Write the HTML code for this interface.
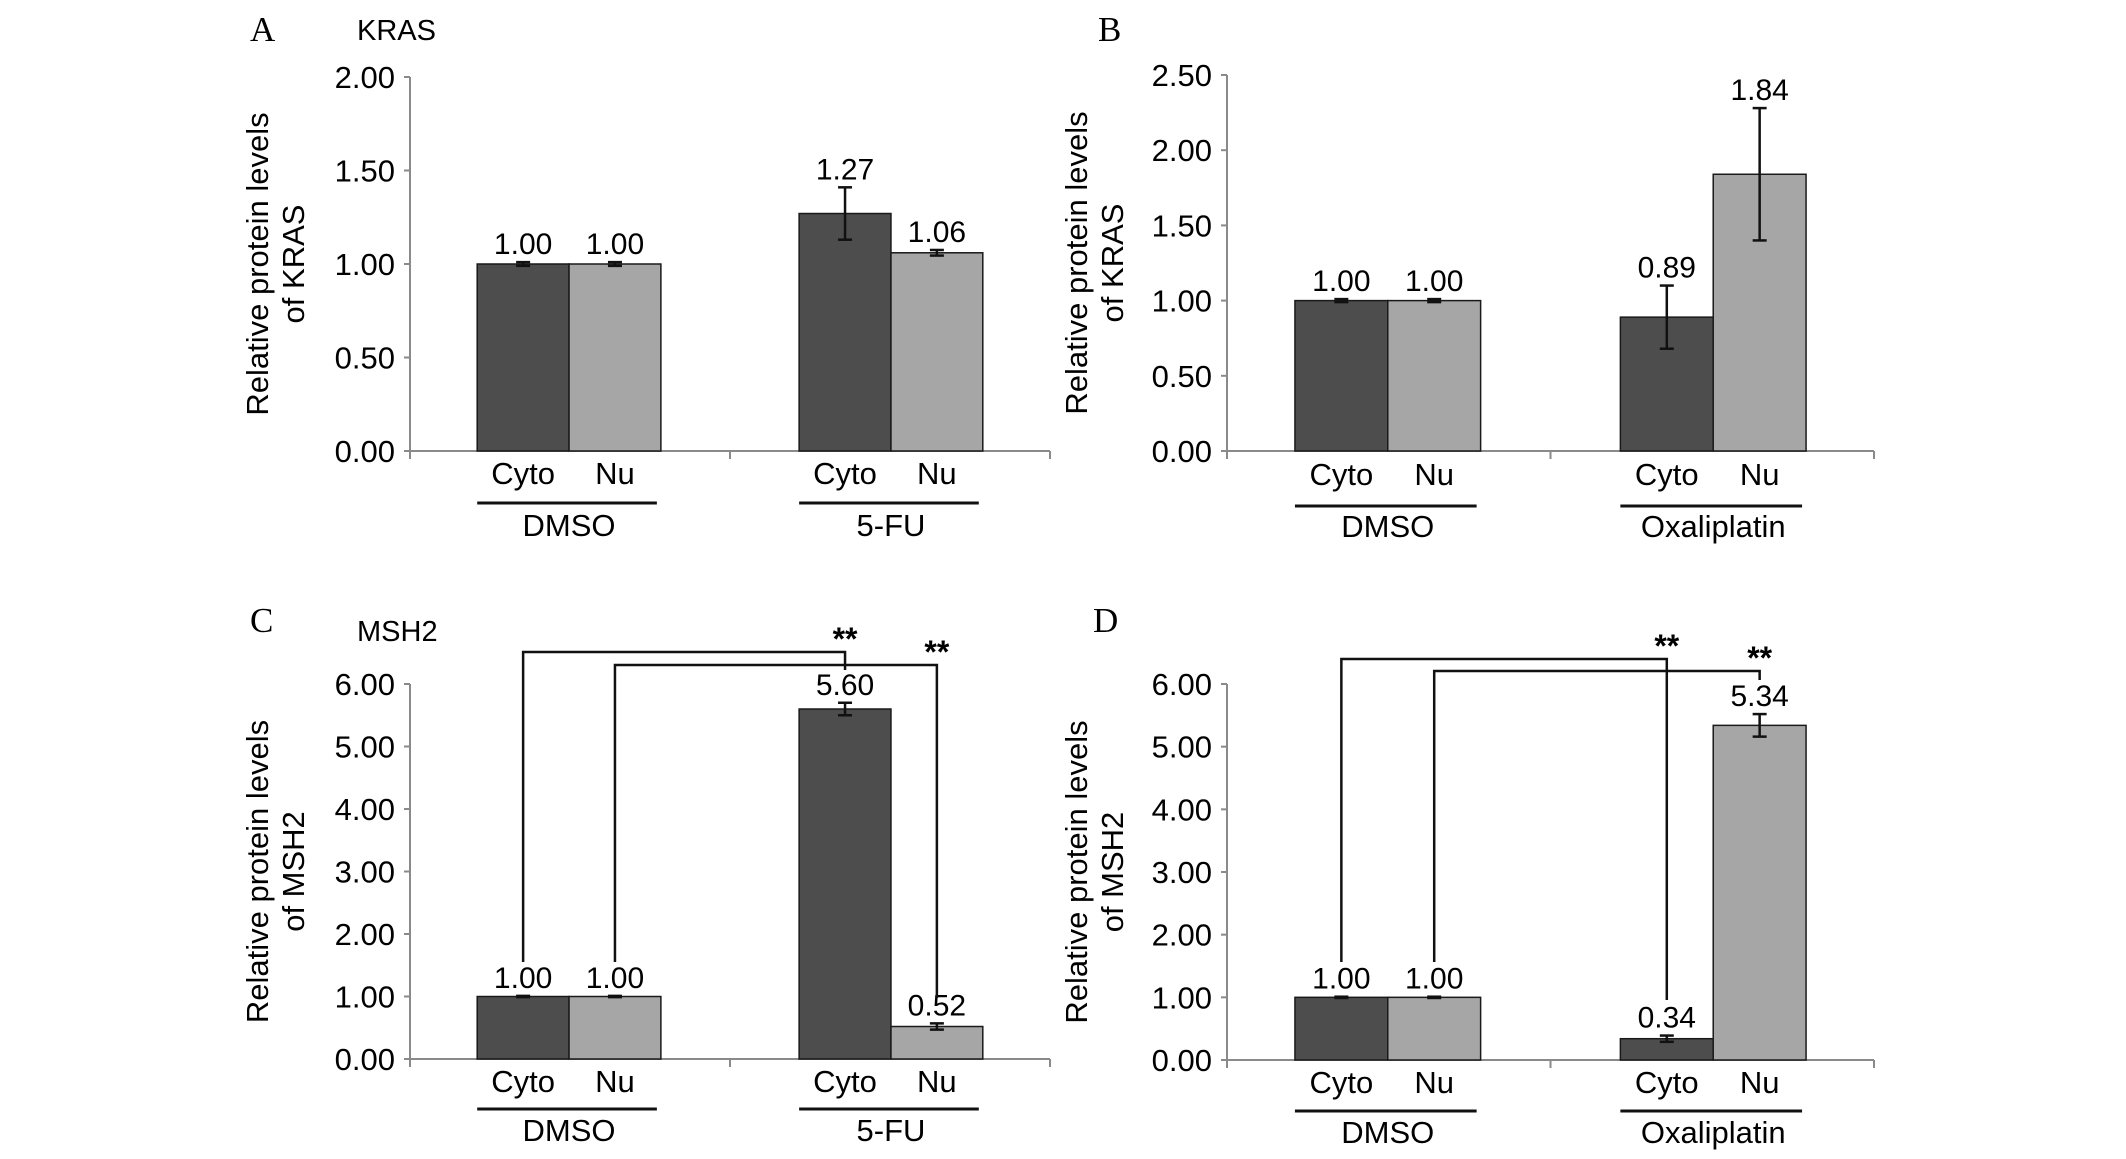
<!DOCTYPE html>
<html><head><meta charset="utf-8"><style>
html,body{margin:0;padding:0;background:#fff;}
svg{display:block;font-family:"Liberation Sans",Arial,sans-serif;}
</style></head><body>
<svg id="fig" width="2126" height="1159" viewBox="0 0 2126 1159" xmlns="http://www.w3.org/2000/svg"></svg>
<script>
const groups = ["DMSO","5-FU"];
const groupsOx = ["DMSO","Oxaliplatin"];
const fractions = ["Cyto","Nu"];
const kras5fuValues = [1.00,1.00,1.27,1.06];
const kras5fuErrors = [0.01,0.01,0.14,0.015];
const krasOxValues = [1.00,1.00,0.89,1.84];
const krasOxErrors = [0.01,0.01,0.21,0.44];
const msh5fuValues = [1.00,1.00,5.60,0.52];
const msh5fuErrors = [0.01,0.01,0.10,0.05];
const mshOxValues = [1.00,1.00,0.34,5.34];
const mshOxErrors = [0.01,0.01,0.05,0.18];
const ticksKrasA = [0,0.5,1,1.5,2];
const ticksKrasB = [0,0.5,1,1.5,2,2.5];
const ticksMsh = [0,1,2,3,4,5,6];

const NS="http://www.w3.org/2000/svg";
const svg=document.getElementById('fig');
function mk(tag,attrs,parent){const e=document.createElementNS(NS,tag);for(const k in attrs)e.setAttribute(k,attrs[k]);(parent||svg).appendChild(e);return e;}
function txt(s,attrs,parent){const e=mk('text',attrs,parent);e.textContent=s;return e;}

function panel(p){
  const g=mk('g',{});
  
  
  const ymax=p.ticks[p.ticks.length-1];
  const y=v=>p.y0-(v/ymax)*(p.y0-p.yTop);
  const W=p.xEnd-p.ax;
  const bw=W*0.1435;
  const gc=[p.ax+W*0.2485,p.ax+W*0.7515];
  const L=txt(p.id,{x:p.letterX,y:p.letterY,'font-family':'"Liberation Serif",serif','font-size':35},g);
  
  
  if(p.title){const t=txt(p.title,{x:p.titleX,y:p.titleY,'font-size':29},g);
    
    }
  const yt=mk('text',{transform:`translate(${p.ytX},${(p.yTop+p.y0)/2}) rotate(-90)`,'font-size':31,'text-anchor':'middle'},g);
  
  
  const t1=mk('tspan',{x:0,y:0},yt);t1.textContent='Relative protein levels';
  const t2=mk('tspan',{x:0,y:36},yt);t2.textContent='of '+p.protein;
  const ya=mk('line',{x1:p.ax,y1:p.yTop,x2:p.ax,y2:p.y0+8,stroke:'#8a8a8a','stroke-width':2},g);
  
  
  const xa=mk('line',{x1:p.ax,y1:p.y0,x2:p.xEnd,y2:p.y0,stroke:'#8a8a8a','stroke-width':2},g);
  
  
  mk('line',{x1:(p.ax+p.xEnd)/2,y1:p.y0,x2:(p.ax+p.xEnd)/2,y2:p.y0+8,stroke:'#8a8a8a','stroke-width':2},g);
  mk('line',{x1:p.xEnd,y1:p.y0,x2:p.xEnd,y2:p.y0+8,stroke:'#8a8a8a','stroke-width':2},g);
  p.ticks.forEach(v=>{
    mk('line',{x1:p.ax-6,y1:y(v),x2:p.ax,y2:y(v),stroke:'#8a8a8a','stroke-width':2},g);
    const tl=txt(v.toFixed(2),{x:p.ax-15,y:y(v)+11,'font-size':31,'text-anchor':'end'},g);
    
    
  });
  const centers=[];
  p.values.forEach((v,i)=>{
    const gi=Math.floor(i/2),fi=i%2;
    const x=gc[gi]-bw+fi*bw;
    const cx=x+bw/2;centers.push(cx);
    const r=mk('rect',{x:x,y:y(v),width:bw,height:p.y0-y(v),fill:fi?'#a6a6a6':'#4d4d4d',stroke:'#1a1a1a','stroke-width':1.5},g);
    
    
    const e=p.errors[i];
    const et=y(v+e),eb=y(v-e);
    const eg=mk('g',{stroke:'#111','stroke-width':2.5},g);
    
    
    mk('line',{x1:cx,y1:et,x2:cx,y2:eb},eg);
    mk('line',{x1:cx-7,y1:et,x2:cx+7,y2:et},eg);
    mk('line',{x1:cx-7,y1:eb,x2:cx+7,y2:eb},eg);
    const vl=txt(v.toFixed(2),{x:cx,y:Math.min(et,y(v))-8,'font-size':30,'text-anchor':'middle'},g);
    
    
    const fl=txt(fractions[fi],{x:cx,y:p.fracY+10,'font-size':31,'text-anchor':'middle'},g);
    
    
  });
  gc.forEach((c,gi)=>{
    const ul=mk('line',{x1:c-bw,y1:p.ulY,x2:c+bw-4,y2:p.ulY,stroke:'#111','stroke-width':3},g);
    
    
    const gl=txt(p.groups[gi],{x:c,y:p.grpY+10,'font-size':31,'text-anchor':'middle'},g);
    
    
  });
  if(p.brackets){
    p.brackets.forEach(b=>{
      const a=centers[b.from],c=centers[b.to];
      const bg=mk('g',{},g);
      
      
      mk('polyline',{points:`${a},${b.leftEnd} ${a},${b.y} ${c},${b.y} ${c},${b.rightEnd}`,fill:'none',stroke:'#111','stroke-width':2.5},bg);
      const st=txt('**',{x:c,y:b.y-2,'font-size':32,'font-weight':'bold','text-anchor':'middle'},bg);
      
      
    });
  }
}

panel({id:'A',title:'KRAS',protein:'KRAS',groups:groups,values:kras5fuValues,errors:kras5fuErrors,ticks:ticksKrasA,
  ax:410,xEnd:1050,yTop:77,y0:451,letterX:250,letterY:41,titleX:357,titleY:40,ytX:268,fracY:474,ulY:503,grpY:526});
panel({id:'B',title:null,protein:'KRAS',groups:groupsOx,values:krasOxValues,errors:krasOxErrors,ticks:ticksKrasB,
  ax:1227,xEnd:1874,yTop:75,y0:451,letterX:1098,letterY:41,ytX:1087,fracY:475,ulY:506,grpY:527});
panel({id:'C',title:'MSH2',protein:'MSH2',groups:groups,values:msh5fuValues,errors:msh5fuErrors,ticks:ticksMsh,
  ax:410,xEnd:1050,yTop:684,y0:1059,letterX:250,letterY:632,titleX:357,titleY:641,ytX:268,fracY:1082,ulY:1109,grpY:1131,
  brackets:[{from:0,to:2,y:652,leftEnd:962,rightEnd:670},{from:1,to:3,y:665,leftEnd:962,rightEnd:998}]});
panel({id:'D',title:null,protein:'MSH2',groups:groupsOx,values:mshOxValues,errors:mshOxErrors,ticks:ticksMsh,
  ax:1227,xEnd:1874,yTop:684,y0:1060,letterX:1093,letterY:632,ytX:1087,fracY:1083,ulY:1111,grpY:1133,
  brackets:[{from:0,to:2,y:659,leftEnd:962,rightEnd:1000},{from:1,to:3,y:671,leftEnd:962,rightEnd:680}]});
</script>
</body></html>
